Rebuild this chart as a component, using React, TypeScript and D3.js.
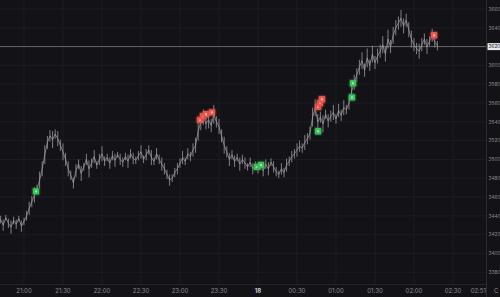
import React from "react";
import * as d3 from "d3";

const W = 500;
const H = 297;

// price series: closes every 2 minutes starting at 20:42 (minutes relative to midnight)
const startMinute = -198;
const stepMinutes = 2;
const closes = [
  3436, 3430, 3438, 3432, 3428, 3435, 3431, 3437, 3429, 3434,
  3440, 3448, 3455, 3462, 3468, 3478, 3490, 3505,
  3518, 3525, 3521, 3527, 3522,
  3515, 3508, 3500, 3490, 3483, 3475,
  3488, 3495, 3485, 3492, 3500, 3490, 3496, 3503, 3494, 3500, 3506, 3498,
  3502, 3496, 3504, 3499, 3505, 3500, 3497, 3503, 3498, 3506, 3501, 3499,
  3504, 3508, 3500, 3505, 3510, 3502, 3498, 3506, 3500, 3495, 3490, 3484,
  3478, 3480, 3486,
  3490, 3496, 3502, 3498, 3506, 3503, 3510,
  3515, 3530, 3540,
  3545, 3538, 3542, 3536, 3548, 3540, 3535,
  3525, 3515, 3508, 3500,
  3505, 3498, 3502, 3495, 3500, 3496, 3492, 3497, 3490, 3494,
  3490, 3493, 3488,
  3495, 3490, 3497, 3492, 3487, 3484, 3490, 3486, 3494, 3498, 3503,
  3506, 3510, 3514, 3512, 3518, 3522, 3528,
  3545, 3555,
  3540, 3545, 3538, 3548, 3541, 3546, 3550, 3543, 3552, 3547, 3555, 3553,
  3560, 3572, 3582, 3590,
  3598, 3605, 3595, 3608, 3600, 3612, 3603, 3610,
  3615, 3622, 3612, 3628, 3620, 3632, 3640, 3645,
  3650, 3642, 3648,
  3638, 3628, 3622, 3618, 3615,
  3622, 3628, 3620, 3626, 3632, 3625, 3621,
];
// half bar range (high-low spread) of each bar, in price units
const spreads = [
  4, 6, 3, 5, 7, 4, 5, 3, 6, 4,
  5, 7, 6, 8, 5, 9, 8, 10,
  7, 6, 9, 5, 8,
  6, 9, 7, 8, 5, 6,
  7, 5, 8, 4, 6, 9, 5, 7, 4, 6, 8, 5,
  4, 6, 5, 7, 3, 6, 5, 4, 7, 5, 6, 4,
  5, 7, 4, 6, 5, 8, 4, 6, 5, 7, 6, 5,
  6, 4, 5,
  6, 5, 7, 4, 6, 5, 7,
  8, 10, 9,
  8, 6, 9, 7, 10, 6, 8,
  7, 9, 6, 7,
  5, 6, 4, 7, 5, 6, 4, 5, 6, 4,
  5, 4, 6,
  5, 7, 4, 6, 5, 4, 6, 5, 7, 5, 6,
  5, 7, 6, 5, 8, 6, 7,
  10, 9,
  8, 6, 9, 5, 7, 6, 8, 5, 7, 6, 8, 5,
  7, 9, 8, 7,
  8, 9, 7, 10, 6, 9, 7, 8,
  7, 9, 8, 10, 7, 9, 8, 7,
  9, 8, 7,
  8, 9, 7, 6, 8,
  7, 6, 8, 5, 7, 6, 5,
];

const buyTimes = [-170.8, -0.8, 2.3, 46.2, 72.3, 73.1];
const buyPrices = [3466, 3492, 3494, 3530, 3566, 3581];
const sellTimes = [-44.6, -42.3, -40, -35.4, 46.2, 47.7, 49.2, 135.4];
const sellPrices = [3542, 3546, 3548, 3550, 3556, 3560, 3564, 3632];

const priceTicks = [3660, 3640, 3620, 3600, 3580, 3560, 3540, 3520, 3500, 3480, 3460, 3440, 3420, 3400, 3380];
const timeTicks = [-180, -150, -120, -90, -60, -30, 0, 30, 60, 90, 120, 150];
const timeTickLabels = ["21:00", "21:30", "22:00", "22:30", "23:00", "23:30", "18", "00:30", "01:00", "01:30", "02:00", "02:30"];
const lastPrice = 3620;
const nowMinute = 171;
const nowLabel = "02:51";

export default function App() {
  const plotRight = 486;
  const plotBottom = 284;
  const x = d3.scaleLinear().domain([-198.46, 175.4]).range([0, plotRight]);
  const y = d3.scaleLinear().domain([3660, 3380]).range([9, 272.2]);

  const pts: [number, number][] = closes.map((c, i) => [startMinute + i * stepMinutes, c]);
  const line = d3
    .line<[number, number]>()
    .x((d) => x(d[0]))
    .y((d) => y(d[1]));

  const bg = "#131317";
  const grid = "#1c1c22";
  const txt = "#8c8c94";

  const marker = (t: number, p: number, color: string, glow: string, key: string) => (
    <g key={key} transform={`translate(${x(t)},${y(p)})`}>
      <rect x={-4.5} y={-4.5} width={9} height={9} rx={2.5} fill={glow} opacity={0.35} />
      <rect x={-3.2} y={-3.2} width={6.4} height={6.4} rx={1.2} fill={color} />
      <rect x={-1} y={-1} width={2} height={2} fill="#ffffff" opacity={0.55} />
    </g>
  );

  return (
    <svg
      width={W}
      height={H}
      style={{ position: "absolute", left: 0, top: 0, display: "block", background: bg }}
      fontFamily="Inter, 'DejaVu Sans', sans-serif"
    >
      <rect x={0} y={0} width={W} height={H} fill={bg} />
      {priceTicks.map((p) => (
        <line key={"h" + p} x1={0} x2={plotRight} y1={y(p)} y2={y(p)} stroke={grid} strokeWidth={1} />
      ))}
      {timeTicks.map((t) => (
        <line key={"v" + t} x1={x(t)} x2={x(t)} y1={0} y2={plotBottom} stroke={grid} strokeWidth={1} />
      ))}
      <line x1={0} x2={plotRight} y1={plotBottom + 0.5} y2={plotBottom + 0.5} stroke="#24242b" />
      <line x1={plotRight + 0.5} x2={plotRight + 0.5} y1={0} y2={H} stroke="#2a2a31" />
      {/* last price line */}
      <line x1={0} x2={plotRight} y1={y(lastPrice)} y2={y(lastPrice)} stroke="#7a7a80" strokeWidth={0.8} />
      {pts.map((d, i) => (
        <line
          key={"w" + i}
          x1={x(d[0])}
          x2={x(d[0])}
          y1={y(d[1] + spreads[i])}
          y2={y(d[1] - spreads[i])}
          stroke="#9a9aa0"
          strokeWidth={0.8}
        />
      ))}
      <path d={line(pts) || ""} fill="none" stroke="#a0a0a6" strokeWidth={0.7} strokeLinejoin="miter" />
      {buyTimes.map((t, i) => marker(t, buyPrices[i], "#3fbf5b", "#2e8f44", "b" + i))}
      {sellTimes.map((t, i) => marker(t, sellPrices[i], "#e5584f", "#b8433c", "s" + i))}
      {priceTicks.map((p) => (
        <text key={"pl" + p} x={488.5} y={y(p) + 1.8} fontSize={4.8} fill={txt}>
          {p}
        </text>
      ))}
      <rect x={487.5} y={y(lastPrice) - 3.5} width={12.5} height={7} fill="#e8e8ea" />
      <text x={488.5} y={y(lastPrice) + 1.8} fontSize={4.8} fill="#131317">
        {lastPrice}
      </text>
      {timeTicks.map((t, i) => (
        <text
          key={"tl" + t}
          x={x(t)}
          y={293}
          fontSize={6}
          textAnchor="middle"
          fill={timeTickLabels[i] === "18" ? "#c8c8cc" : txt}
          fontWeight={timeTickLabels[i] === "18" ? 700 : 400}
        >
          {timeTickLabels[i]}
        </text>
      ))}
      <text x={x(nowMinute) - 2} y={293} fontSize={6} textAnchor="middle" fill={txt}>
        {nowLabel}
      </text>
      <text x={494} y={293} fontSize={6} fill={txt}>
        C
      </text>
    </svg>
  );
}
